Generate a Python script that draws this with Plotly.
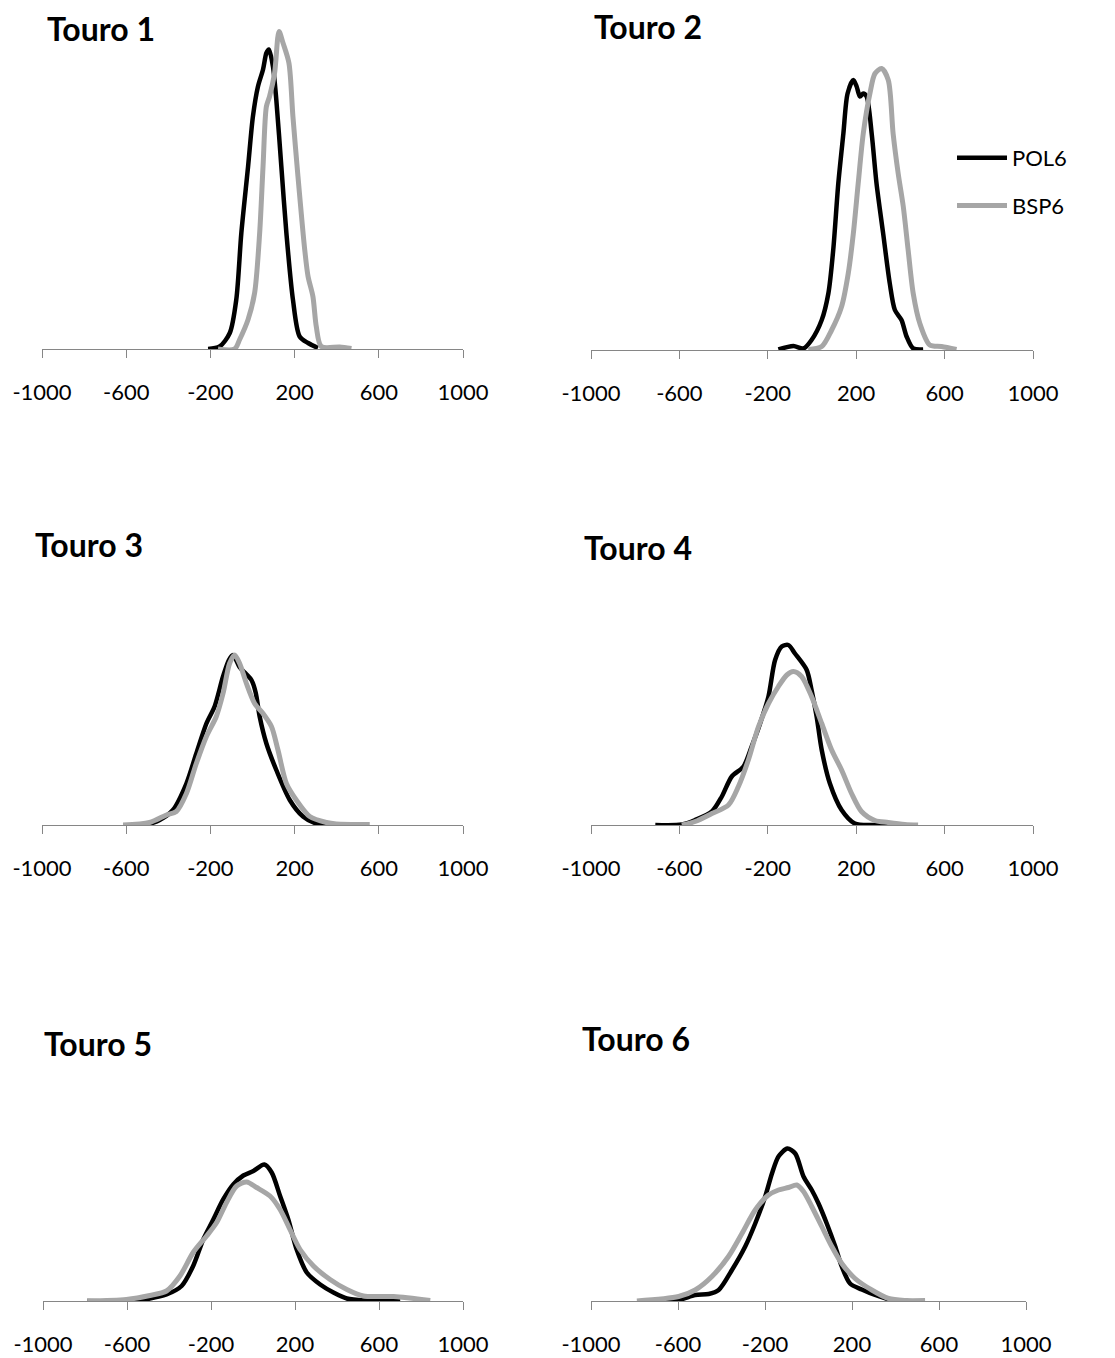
import plotly.graph_objects as go

# ---------------- data ----------------
tick_vals = [-1000, -600, -200, 200, 600, 1000]
tick_text = ["-1000", "-600", "-200", "200", "600", "1000"]
panel_titles = ["Touro 1", "Touro 2", "Touro 3", "Touro 4", "Touro 5", "Touro 6"]
series_names = ["POL6", "BSP6"]

# Touro 1
t1_pol_x = [-211, -156, -108, -77, -53, -21, 2, 26, 50, 66, 78, 97, 113, 137, 161, 192, 224, 264, 311]
t1_pol_y = [0, 0.00005, 0.00032, 0.00099, 0.00232, 0.00365, 0.00465, 0.00525, 0.00559, 0.00592, 0.00599,
            0.00565, 0.00499, 0.00365, 0.00232, 0.00099, 0.00025, 0.00012, 0.00002]
t1_bsp_x = [-164, -85, -61, -21, 10, 34, 50, 66, 81, 105, 126, 145, 173, 192, 216, 248, 264, 287, 303, 327, 414, 470]
t1_bsp_y = [0, 0, 0.00019, 0.00059, 0.00112, 0.00232, 0.00365, 0.00485, 0.00505, 0.00552, 0.00635, 0.00612,
            0.00572, 0.00465, 0.00345, 0.00199, 0.00145, 0.00105, 0.00045, 0.00005, 0.00004, 0.00001]

# Touro 2
t2_pol_x = [-152, -84, -39, -2, 44, 74, 96, 119, 142, 161, 187, 202, 217, 232, 247, 270, 292, 322, 352, 375, 405, 428, 458, 503]
t2_pol_y = [0.00001, 0.00008, 0.00003, 0.0002, 0.0006, 0.00113, 0.002, 0.00333, 0.00433, 0.00513, 0.0054, 0.00527,
            0.00507, 0.00513, 0.00507, 0.00433, 0.00333, 0.00233, 0.00133, 0.0008, 0.0006, 0.00027, 0.00003, 0.00001]
t2_bsp_x = [-17, 44, 89, 134, 164, 187, 209, 232, 262, 285, 315, 345, 367, 390, 413, 435, 458, 488, 533, 586, 654]
t2_bsp_y = [0.00001, 0.00007, 0.0004, 0.00087, 0.00153, 0.00233, 0.00333, 0.00433, 0.00513, 0.00553, 0.00563,
            0.0054, 0.00433, 0.00353, 0.00287, 0.002, 0.00113, 0.00053, 0.0001, 0.00007, 0.00001]

# Touro 3
t3_pol_x = [-504, -441, -378, -314, -267, -219, -180, -140, -112, -93, -60, -30, -5, 15, 34, 66, 113, 177, 240, 303, 367, 477]
t3_pol_y = [0, 0.0001, 0.0003, 0.00083, 0.00143, 0.00203, 0.00237, 0.00297, 0.0033, 0.0034, 0.00315, 0.00302,
            0.0029, 0.00265, 0.00217, 0.00163, 0.0011, 0.0005, 0.00017, 0.00003, 0, 0]
t3_bsp_x = [-615, -489, -409, -362, -314, -267, -219, -172, -140, -109, -85, -61, -29, 10, 50, 90, 121, 161, 208, 272, 351, 398, 557]
t3_bsp_y = [0, 0.00005, 0.0002, 0.00027, 0.00063, 0.00123, 0.00177, 0.00217, 0.00263, 0.00323, 0.0034, 0.00323,
            0.00283, 0.00243, 0.00223, 0.00197, 0.0015, 0.00083, 0.0005, 0.00017, 0.00005, 0.00002, 0.00001]

# Touro 4
t4_pol_x = [-709, -589, -529, -453, -408, -363, -310, -273, -235, -197, -167, -137, -107, -77, -24, -2, 21, 44, 81, 134, 194, 270, 345]
t4_pol_y = [0, 0.00001, 0.0001, 0.00027, 0.00057, 0.00097, 0.00117, 0.00157, 0.00203, 0.00257, 0.0033, 0.00357,
            0.0036, 0.00343, 0.0031, 0.0027, 0.00217, 0.0015, 0.00083, 0.0003, 0.00003, 0, 0]
t4_bsp_x = [-589, -529, -453, -378, -333, -288, -242, -197, -152, -114, -84, -47, -2, 44, 89, 134, 179, 224, 285, 345, 420, 480]
t4_bsp_y = [0, 0.00007, 0.00023, 0.0004, 0.00077, 0.0013, 0.00197, 0.00243, 0.00277, 0.003, 0.00307, 0.00297,
            0.00257, 0.00203, 0.0015, 0.0011, 0.00063, 0.00027, 0.00009, 0.00005, 0.00001, 0]

# Touro 5
t5_pol_x = [-790, -603, -491, -412, -340, -285, -237, -189, -142, -94, -46, 2, 54, 89, 129, 168, 208, 256, 320, 383, 447, 542, 701]
t5_pol_y = [0, 0, 0.00005, 0.00013, 0.0003, 0.0007, 0.00123, 0.00163, 0.00203, 0.00233, 0.00251, 0.0026, 0.00273,
            0.00257, 0.0021, 0.00163, 0.00103, 0.00057, 0.00033, 0.00017, 0.00005, 0.00001, 0]
t5_bsp_x = [-790, -603, -491, -412, -348, -285, -221, -173, -126, -78, -30, 17, 81, 129, 176, 224, 288, 367, 447, 526, 669, 844]
t5_bsp_y = [0, 0.00003, 0.00011, 0.0002, 0.0005, 0.00097, 0.0013, 0.00157, 0.00197, 0.0023, 0.00238, 0.00227,
            0.0021, 0.00183, 0.00143, 0.00103, 0.0007, 0.00043, 0.00023, 0.0001, 0.00009, 0.00001]

# Touro 6
t6_pol_x = [-704, -597, -521, -459, -413, -352, -291, -245, -199, -168, -138, -97, -61, -23, 15, 46, 84, 123, 153, 191, 245, 306, 383, 459]
t6_pol_y = [0, 0.00002, 0.00012, 0.00014, 0.00022, 0.00062, 0.00109, 0.00155, 0.00209, 0.00255, 0.00289, 0.00305,
            0.00295, 0.00249, 0.00222, 0.00195, 0.00155, 0.00109, 0.00069, 0.00035, 0.00023, 0.00012, 0.00002, 0]
t6_bsp_x = [-789, -597, -521, -444, -368, -306, -245, -184, -138, -92, -54, -23, 15, 61, 107, 153, 214, 291, 368, 444, 536]
t6_bsp_y = [0, 0.00009, 0.00022, 0.00049, 0.00089, 0.00135, 0.00182, 0.00212, 0.00222, 0.00227, 0.00232, 0.00219,
            0.00189, 0.00149, 0.00109, 0.00075, 0.00045, 0.00022, 0.00005, 0.00001, 0.00001]

panels = [
    (t1_pol_x, t1_pol_y, t1_bsp_x, t1_bsp_y),
    (t2_pol_x, t2_pol_y, t2_bsp_x, t2_bsp_y),
    (t3_pol_x, t3_pol_y, t3_bsp_x, t3_bsp_y),
    (t4_pol_x, t4_pol_y, t4_bsp_x, t4_bsp_y),
    (t5_pol_x, t5_pol_y, t5_bsp_x, t5_bsp_y),
    (t6_pol_x, t6_pol_y, t6_bsp_x, t6_bsp_y),
]

# ---------------- layout geometry ----------------
W, H = 1115, 1358
FONT = "Lato, 'Open Sans', sans-serif"
AXIS_GREY = "#868686"
BLACK = "#000000"
GREY = "#A6A6A6"

# pixel extents of each plot area: (left, right, baseline, top)
boxes = [
    (42, 463, 349, 9),
    (591, 1033, 350, 10),
    (42, 463, 825, 485),
    (591, 1033, 825, 485),
    (43, 463, 1301, 961),
    (591, 1026, 1301, 961),
]
title_pos = [(45, 28), (592, 26), (33, 544), (582, 547), (42, 1043), (580, 1038)]

fig = go.Figure()
layout = dict(
    width=W, height=H,
    margin=dict(l=0, r=0, t=0, b=0, autoexpand=False),
    paper_bgcolor="white", plot_bgcolor="white",
    font=dict(family=FONT, size=22, color="black"),
    showlegend=True,
    legend=dict(
        x=952 / W, y=1 - 137 / H, xanchor="left", yanchor="top",
        font=dict(family=FONT, size=22, color="black"),
        bgcolor="rgba(0,0,0,0)", tracegroupgap=16, itemwidth=50,
    ),
    annotations=[],
)

for i, (px, py, bx, by) in enumerate(panels):
    n = i + 1
    xa = "x" if n == 1 else f"x{n}"
    ya = "y" if n == 1 else f"y{n}"
    l, r, base, top = boxes[i]
    layout["xaxis" if n == 1 else f"xaxis{n}"] = dict(
        domain=[l / W, r / W], range=[-1000, 1000], anchor=ya,
        tickvals=tick_vals, ticktext=tick_text, ticks="outside", ticklen=8,
        tickcolor=AXIS_GREY, tickwidth=1, showline=True, linecolor=AXIS_GREY,
        linewidth=1, showgrid=False, zeroline=False, ticklabelstandoff=16,
        tickfont=dict(family=FONT, size=22, color="black"), fixedrange=True,
        automargin=False,
    )
    layout["yaxis" if n == 1 else f"yaxis{n}"] = dict(
        domain=[1 - base / H, 1 - top / H], range=[0, 0.0068], anchor=xa,
        visible=False, showgrid=False, zeroline=False, fixedrange=True,
        automargin=False,
    )
    for name, xs, ys, col, lw in ((series_names[0], px, py, BLACK, 4.5),
                                  (series_names[1], bx, by, GREY, 5)):
        fig.add_trace(go.Scatter(
            x=xs, y=ys, mode="lines", name=name, legendgroup=name,
            showlegend=(n == 1), xaxis=xa, yaxis=ya,
            line=dict(color=col, width=lw, shape="spline", smoothing=0.8),
            hoverinfo="skip",
        ))
    tx, ty = title_pos[i]
    layout["annotations"].append(dict(
        text=f"<b>{panel_titles[i]}</b>", xref="paper", yref="paper",
        x=tx / W, y=1 - ty / H, xanchor="left", yanchor="middle",
        showarrow=False, font=dict(family=FONT, size=32, color="black"),
    ))

fig.update_layout(**layout)
fig.write_html("out.html",
               config={"displayModeBar": False},
               post_script="document.body.style.margin='0';document.body.style.padding='0';")
